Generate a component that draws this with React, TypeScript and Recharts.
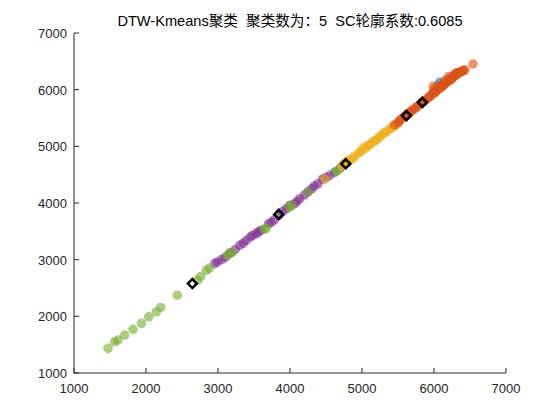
import { ScatterChart, Scatter, XAxis, YAxis } from 'recharts';

// 聚类结果 (x, y)
const greenPts = [
  { x: 1472, y: 1435 }, { x: 1565, y: 1551 }, { x: 1611, y: 1581 }, { x: 1704, y: 1669 },
  { x: 1819, y: 1769 }, { x: 1936, y: 1875 }, { x: 2038, y: 1991 }, { x: 2144, y: 2079 },
  { x: 2204, y: 2157 }, { x: 2436, y: 2373 }, { x: 2714, y: 2637 }, { x: 2760, y: 2700 },
  { x: 2839, y: 2813 }, { x: 2880, y: 2850 }, { x: 3130, y: 3080 }, { x: 3163, y: 3107 },
  { x: 3200, y: 3130 }, { x: 3640, y: 3540 }, { x: 3672, y: 3548 }, { x: 3996, y: 3928 },
  { x: 4020, y: 3950 }, { x: 4250, y: 4192 }, { x: 4640, y: 4560 }, { x: 4667, y: 4574 },
];

const purplePts = [
  { x: 2954, y: 2931 }, { x: 2990, y: 2960 }, { x: 3050, y: 3000 }, { x: 3100, y: 3040 },
  { x: 3170, y: 3120 }, { x: 3240, y: 3180 }, { x: 3301, y: 3254 }, { x: 3350, y: 3290 },
  { x: 3394, y: 3342 }, { x: 3450, y: 3400 }, { x: 3480, y: 3430 }, { x: 3533, y: 3460 },
  { x: 3560, y: 3490 }, { x: 3600, y: 3520 }, { x: 3700, y: 3630 }, { x: 3740, y: 3660 },
  { x: 3780, y: 3700 }, { x: 3850, y: 3790 }, { x: 3900, y: 3850 }, { x: 3950, y: 3900 },
  { x: 4000, y: 3960 }, { x: 4065, y: 3988 }, { x: 4100, y: 4030 }, { x: 4135, y: 4076 },
  { x: 4200, y: 4140 }, { x: 4250, y: 4200 }, { x: 4300, y: 4250 }, { x: 4340, y: 4300 },
  { x: 4389, y: 4340 }, { x: 4450, y: 4420 }, { x: 4500, y: 4450 }, { x: 4551, y: 4486 },
  { x: 4620, y: 4540 }, { x: 4700, y: 4620 }, { x: 4760, y: 4690 }, { x: 4800, y: 4720 },
];

const yellowPts = [
  { x: 4490, y: 4420 }, { x: 4720, y: 4650 }, { x: 4760, y: 4700 }, { x: 4800, y: 4740 },
  { x: 4820, y: 4760 }, { x: 4850, y: 4770 }, { x: 4880, y: 4790 }, { x: 4900, y: 4830 },
  { x: 4950, y: 4870 }, { x: 4970, y: 4900 }, { x: 5000, y: 4930 }, { x: 5020, y: 4980 },
  { x: 5050, y: 4960 }, { x: 5080, y: 5010 }, { x: 5100, y: 5030 }, { x: 5120, y: 5040 },
  { x: 5150, y: 5080 }, { x: 5180, y: 5100 }, { x: 5200, y: 5110 }, { x: 5230, y: 5150 },
  { x: 5250, y: 5170 }, { x: 5270, y: 5190 }, { x: 5300, y: 5230 }, { x: 5320, y: 5250 },
  { x: 5340, y: 5250 }, { x: 5380, y: 5300 }, { x: 5400, y: 5320 }, { x: 5420, y: 5330 },
  { x: 5440, y: 5360 }, { x: 5460, y: 5370 }, { x: 5480, y: 5390 }, { x: 5500, y: 5400 },
];

const orangePts = [
  { x: 5450, y: 5380 }, { x: 5500, y: 5420 }, { x: 5520, y: 5450 }, { x: 5540, y: 5480 },
  { x: 5580, y: 5510 }, { x: 5600, y: 5530 }, { x: 5620, y: 5560 }, { x: 5640, y: 5580 },
  { x: 5660, y: 5590 }, { x: 5680, y: 5620 }, { x: 5700, y: 5640 }, { x: 5730, y: 5660 },
  { x: 5750, y: 5690 }, { x: 5770, y: 5700 }, { x: 5800, y: 5740 }, { x: 5820, y: 5760 },
  { x: 5840, y: 5780 }, { x: 5860, y: 5800 }, { x: 5880, y: 5810 }, { x: 5910, y: 5850 },
  { x: 5930, y: 5870 }, { x: 5950, y: 5880 }, { x: 5970, y: 5930 }, { x: 5980, y: 5920 },
  { x: 5990, y: 6060 }, { x: 6000, y: 6000 }, { x: 6010, y: 5960 }, { x: 6020, y: 5950 },
  { x: 6040, y: 5990 }, { x: 6050, y: 6060 }, { x: 6060, y: 6010 }, { x: 6070, y: 6020 },
  { x: 6090, y: 6070 }, { x: 6100, y: 6040 }, { x: 6120, y: 6060 }, { x: 6130, y: 6080 },
  { x: 6140, y: 6100 }, { x: 6150, y: 6160 }, { x: 6160, y: 6110 }, { x: 6180, y: 6150 },
  { x: 6190, y: 6140 }, { x: 6200, y: 6230 }, { x: 6210, y: 6190 }, { x: 6220, y: 6170 },
  { x: 6240, y: 6180 }, { x: 6250, y: 6200 }, { x: 6260, y: 6240 }, { x: 6280, y: 6230 },
  { x: 6290, y: 6250 }, { x: 6300, y: 6290 }, { x: 6310, y: 6260 }, { x: 6320, y: 6300 },
  { x: 6340, y: 6290 }, { x: 6350, y: 6300 }, { x: 6370, y: 6310 }, { x: 6380, y: 6320 },
  { x: 6400, y: 6330 }, { x: 6410, y: 6340 }, { x: 6430, y: 6350 }, { x: 6542, y: 6452 },
];

const bluePts = [{ x: 6079, y: 6129 }];

const centroids = [
  { x: 2644, y: 2579 }, { x: 3843, y: 3799 }, { x: 4774, y: 4692 },
  { x: 5617, y: 5542 }, { x: 5839, y: 5776 },
];

const xTicks = [1000, 2000, 3000, 4000, 5000, 6000, 7000];
const yTicks = [1000, 2000, 3000, 4000, 5000, 6000, 7000];

const AX = '#262626';
const FONT = '"Liberation Sans", Arial, "Noto Sans CJK SC", sans-serif';

const dot = (color: string) => (p: any) => (
  <circle cx={p.cx} cy={p.cy} r={4.8} fill={color} fillOpacity={0.6} stroke="none" />
);

const diamond = (p: any) => {
  const s = 4.5;
  return (
    <polygon
      points={`${p.cx},${p.cy - s} ${p.cx + s},${p.cy} ${p.cx},${p.cy + s} ${p.cx - s},${p.cy}`}
      fill="none"
      stroke="#000"
      strokeWidth={2.5}
    />
  );
};

const XTick = (p: any) => (
  <g>
    <line x1={p.x} x2={p.x} y1={p.y} y2={p.y - 5} stroke={AX} />
    <text x={p.x} y={p.y + 20} textAnchor="middle" fontSize={13} fill={AX} fontFamily={FONT}>
      {p.payload.value}
    </text>
  </g>
);

const YTick = (p: any) => (
  <g>
    <line x1={p.x} x2={p.x + 5} y1={p.y} y2={p.y} stroke={AX} />
    <text x={p.x - 7} y={p.y + 5} textAnchor="end" fontSize={13} fill={AX} fontFamily={FONT}>
      {p.payload.value}
    </text>
  </g>
);

const App = () => {
  return (
    <div style={{ position: 'absolute', left: 0, top: 0, width: 560, height: 420, background: '#fff' }}>
      <div style={{ position: 'absolute', left: 74, width: 432, top: 9, textAlign: 'center', fontFamily: FONT, fontSize: 14.6, color: '#000', whiteSpace: 'pre' }}>
        {'DTW-Kmeans聚类  聚类数为：5  SC轮廓系数:0.6085'}
      </div>
      <ScatterChart width={560} height={420} margin={{ top: 33, right: 54, bottom: 0, left: 0 }}>
        <XAxis
          type="number" dataKey="x" domain={[1000, 7000]} ticks={xTicks}
          height={47} tickSize={0} tickMargin={0} tickLine={false}
          axisLine={{ stroke: AX }} tick={XTick} allowDataOverflow
        />
        <YAxis
          type="number" dataKey="y" domain={[1000, 7000]} ticks={yTicks}
          width={74} tickSize={0} tickMargin={0} tickLine={false}
          axisLine={{ stroke: AX }} tick={YTick} allowDataOverflow
        />
        <Scatter data={purplePts} shape={dot('#7E2F8E')} isAnimationActive={false} />
        <Scatter data={greenPts} shape={dot('#77AC30')} isAnimationActive={false} />
        <Scatter data={yellowPts} shape={dot('#EDB120')} isAnimationActive={false} />
        <Scatter data={bluePts} shape={dot('#0072BD')} isAnimationActive={false} />
        <Scatter data={orangePts} shape={dot('#D95319')} isAnimationActive={false} />
        <Scatter data={centroids} shape={diamond} isAnimationActive={false} />
      </ScatterChart>
    </div>
  );
};

export default App;
